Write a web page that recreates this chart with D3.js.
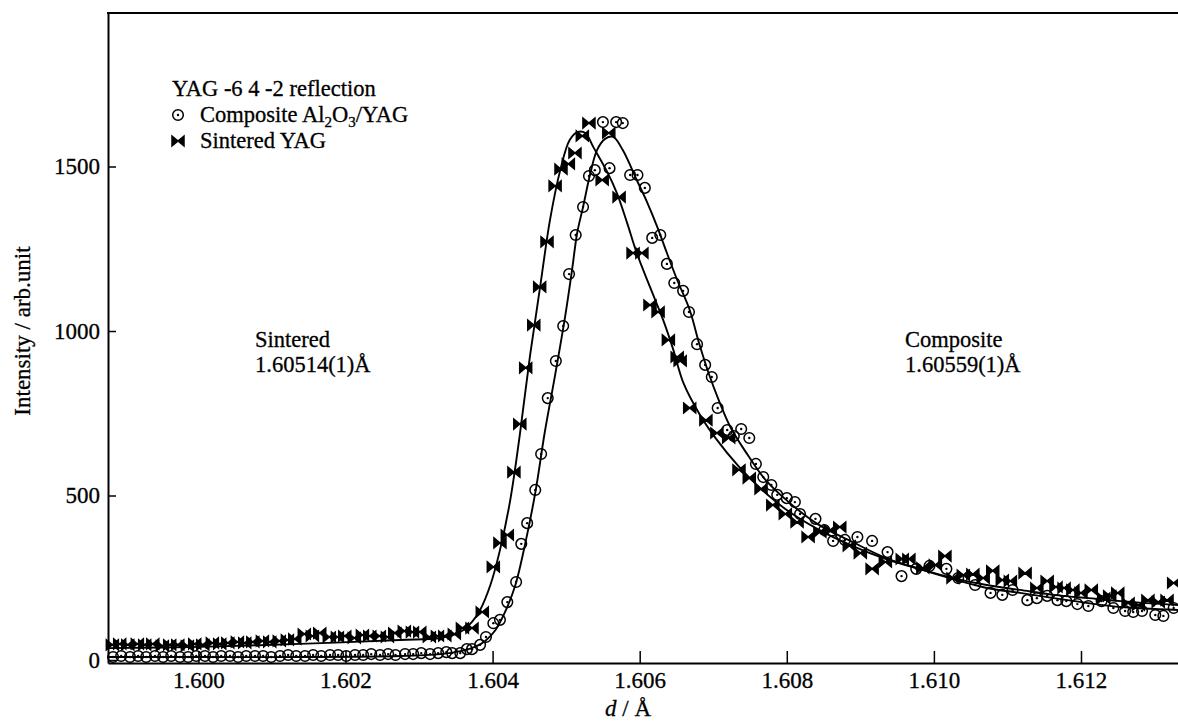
<!DOCTYPE html>
<html><head><meta charset="utf-8">
<script src="https://cdn.jsdelivr.net/npm/d3@7"></script>
<style>
body{margin:0;background:#fff}
svg{display:block}
text{font-family:"Liberation Serif","Times New Roman",serif;fill:#000;stroke:#000;stroke-width:0.3px}
</style>
</head><body>
<svg id="c" width="1178" height="721"></svg>
<script>
// ---- data (d in Å, intensity in arb. units) ----
const xTicks = [1.600, 1.602, 1.604, 1.606, 1.608, 1.610, 1.612];
const yTicks = [0, 500, 1000, 1500];
const seriesNames = ["Composite Al2O3/YAG", "Sintered YAG"];

const sinteredPoints = [
[1.59883,46],[1.59893,49],[1.59904,46],[1.59917,49],[1.59927,46],[1.59938,49],[1.59951,43],[1.59961,46],[1.59972,46],[1.59985,43],
[1.59995,49],[1.60006,46],[1.60019,52],[1.60029,49],[1.60040,52],[1.60053,55],[1.60063,52],[1.60074,55],[1.60087,58],[1.60097,55],
[1.60110,58],[1.60121,61],[1.60131,64],[1.60144,79],[1.60155,73],[1.60165,82],[1.60178,70],[1.60189,70],[1.60199,73],[1.60212,67],
[1.60223,76],[1.60233,73],[1.60246,73],[1.60257,70],[1.60267,82],[1.60280,88],[1.60291,85],[1.60301,85],[1.60314,70],[1.60325,73],
[1.60335,73],[1.60348,79],[1.60359,97],[1.60372,97],[1.60386,146],[1.60401,283],[1.60410,356],[1.60420,380],[1.60429,571],[1.60437,717],
[1.60445,888],[1.60456,1018],[1.60464,1134],[1.60474,1271],[1.60485,1441],[1.60493,1492],[1.60503,1508],[1.60512,1541],[1.60522,1593],[1.60531,1632],
[1.60549,1459],[1.60558,1602],[1.60572,1407],[1.60591,1237],[1.60603,1237],[1.60614,1079],[1.60625,1058],[1.60639,973],[1.60651,921],[1.60655,909],
[1.60668,766],[1.60690,729],[1.60705,690],[1.60721,675],[1.60735,578],[1.60749,553],[1.60765,520],[1.60781,471],[1.60798,444],[1.60814,419],
[1.60829,374],[1.60845,389],[1.60859,395],[1.60872,404],[1.60885,347],[1.60900,325],[1.60916,277],[1.60934,298],[1.60957,307],[1.60966,307],
[1.60985,280],[1.61002,289],[1.61015,316],[1.61026,249],[1.61040,258],[1.61053,261],[1.61067,249],[1.61080,271],[1.61093,243],[1.61104,240],
[1.61124,264],[1.61140,219],[1.61154,240],[1.61166,222],[1.61177,219],[1.61189,213],[1.61200,204],[1.61214,213],[1.61231,188],[1.61239,195],
[1.61250,204],[1.61264,173],[1.61278,167],[1.61291,182],[1.61305,176],[1.61317,182],[1.61326,234]
];

const compositePoints = [
[1.59884,9],[1.59895,12],[1.59907,9],[1.59918,12],[1.59929,9],[1.59941,12],[1.59952,9],[1.59963,12],[1.59975,9],[1.59986,9],
[1.59997,12],[1.60009,12],[1.60020,9],[1.60031,12],[1.60043,12],[1.60054,9],[1.60065,12],[1.60077,12],[1.60088,12],[1.60099,9],
[1.60111,12],[1.60122,15],[1.60133,12],[1.60145,12],[1.60156,15],[1.60167,12],[1.60179,15],[1.60190,15],[1.60201,12],[1.60213,15],
[1.60224,15],[1.60235,18],[1.60247,15],[1.60258,18],[1.60268,15],[1.60281,18],[1.60292,18],[1.60303,21],[1.60315,18],[1.60326,21],
[1.60337,24],[1.60345,21],[1.60356,21],[1.60365,33],[1.60372,33],[1.60383,46],[1.60391,70],[1.60401,112],[1.60410,122],[1.60420,176],
[1.60432,237],[1.60439,353],[1.60447,416],[1.60458,517],[1.60466,626],[1.60475,796],[1.60486,909],[1.60496,1015],[1.60504,1173],[1.60513,1292],
[1.60523,1377],[1.60531,1471],[1.60539,1489],[1.60550,1635],[1.60559,1495],[1.60568,1635],[1.60577,1632],[1.60587,1474],[1.60597,1474],[1.60607,1435],
[1.60617,1283],[1.60628,1292],[1.60637,1204],[1.60647,1146],[1.60659,1122],[1.60667,1058],[1.60678,960],[1.60689,897],[1.60698,860],[1.60706,766],
[1.60719,699],[1.60728,681],[1.60738,702],[1.60749,675],[1.60758,596],[1.60768,556],[1.60779,532],[1.60787,502],[1.60800,492],[1.60811,480],
[1.60818,444],[1.60839,429],[1.60851,395],[1.60863,362],[1.60879,365],[1.60896,374],[1.60916,362],[1.60937,328],[1.60956,255],[1.60976,277],
[1.60994,286],[1.61017,277],[1.61033,249],[1.61056,228],[1.61077,204],[1.61093,198],[1.61107,213],[1.61127,182],[1.61140,188],[1.61154,195],
[1.61168,182],[1.61180,179],[1.61195,170],[1.61210,164],[1.61228,179],[1.61244,158],[1.61260,149],[1.61271,146],[1.61283,149],[1.61301,137],
[1.61312,134],[1.61326,158]
];

const sinteredFit = [
[1.59877,36],[1.60002,40],[1.60138,49],[1.60274,61],[1.60329,67],[1.60356,85],[1.60372,116],[1.60383,152],[1.60397,228],[1.60410,334],
[1.60424,486],[1.60437,684],[1.60451,927],[1.60465,1140],[1.60478,1337],[1.60492,1489],[1.60505,1581],[1.60516,1605],[1.60526,1602],[1.60537,1559],
[1.60556,1483],[1.60569,1419],[1.60583,1328],[1.60596,1237],[1.60614,1134],[1.60632,1033],[1.60645,948],[1.60660,839],[1.60682,745],[1.60705,669],
[1.60734,590],[1.60765,520],[1.60798,459],[1.60842,398],[1.60889,347],[1.60935,307],[1.60980,277],[1.61026,249],[1.61072,228],[1.61117,213],
[1.61163,198],[1.61210,188],[1.61254,179],[1.61332,167]
];

const compositeFit = [
[1.59877,9],[1.60002,9],[1.60138,9],[1.60274,12],[1.60329,18],[1.60356,27],[1.60376,40],[1.60390,58],[1.60404,91],[1.60417,146],
[1.60431,228],[1.60444,350],[1.60458,508],[1.60471,693],[1.60485,866],[1.60499,1049],[1.60508,1185],[1.60515,1298],[1.60523,1377],[1.60533,1480],
[1.60542,1550],[1.60553,1584],[1.60564,1590],[1.60577,1550],[1.60596,1459],[1.60610,1392],[1.60624,1316],[1.60637,1237],[1.60651,1155],[1.60668,1064],
[1.60681,961],[1.60694,870],[1.60708,787],[1.60724,705],[1.60747,623],[1.60769,553],[1.60798,489],[1.60842,413],[1.60889,359],[1.60935,310],
[1.60980,277],[1.61026,246],[1.61072,219],[1.61117,204],[1.61163,188],[1.61210,173],[1.61254,161],[1.61332,152]
];

// ---- layout ----
const svg = d3.select("#c");
const L = 108, R = 1178, T = 13, B = 663;
const x = d3.scaleLinear().domain([1.598771, 1.613319]).range([L, R]);
const y = d3.scaleLinear().domain([-9.1, 1966.6]).range([B, T]);

// axes
const gx = svg.append("g").attr("transform", `translate(0,${B})`)
  .call(d3.axisBottom(x).tickValues(xTicks).tickFormat(d3.format(".3f"))
        .tickSizeInner(-12).tickSizeOuter(0).tickPadding(9));
const gy = svg.append("g").attr("transform", `translate(${L},0)`)
  .call(d3.axisLeft(y).tickValues(yTicks).tickFormat(d3.format("d"))
        .tickSizeInner(-8).tickSizeOuter(0).tickPadding(8));
[gx, gy].forEach(g => {
  g.attr("font-family", null).attr("font-size", null);
  g.select(".domain").attr("stroke", "#000").attr("stroke-width", 2);
  g.selectAll(".tick line").attr("stroke", "#000").attr("stroke-width", 1.5);
  g.selectAll(".tick text").style("font-size", "23px").attr("fill", "#000");
});
// top border
svg.append("line").attr("x1", L - 1).attr("x2", R).attr("y1", T).attr("y2", T)
  .attr("stroke", "#000").attr("stroke-width", 2);

// fitted curves
const line = d3.line().x(d => x(d[0])).y(d => y(d[1])).curve(d3.curveCatmullRom.alpha(0.5));
[sinteredFit, compositeFit].forEach(s => {
  svg.append("path").datum(s).attr("d", line)
    .attr("fill", "none").attr("stroke", "#000").attr("stroke-width", 1.9);
});

// markers
const bowtie = "M-6,-5L0,0L-6,5ZM6,-5L0,0L6,5ZM-6,-5.5V5.5M6,-5.5V5.5";
function drawBowtie(g, px, py) {
  g.append("path").attr("transform", `translate(${px},${py})`).attr("d", bowtie)
    .attr("fill", "#000").attr("stroke", "#000").attr("stroke-width", 1.5);
}
function drawCircle(g, px, py) {
  g.append("circle").attr("cx", px).attr("cy", py).attr("r", 5.3)
    .attr("fill", "none").attr("stroke", "#000").attr("stroke-width", 1.5);
  g.append("circle").attr("cx", px).attr("cy", py).attr("r", 1.2).attr("fill", "#000");
}
const gm = svg.append("g");
compositePoints.forEach(p => drawCircle(gm, x(p[0]), y(p[1])));
sinteredPoints.forEach(p => drawBowtie(gm, x(p[0]), y(p[1])));

// legend
svg.append("text").attr("x", 172).attr("y", 96).style("font-size", "22.5px").text("YAG -6 4 -2 reflection");
drawCircle(svg, 178, 115);
drawBowtie(svg, 178, 141);
const t1 = svg.append("text").attr("x", 200).attr("y", 122).style("font-size", "22.5px");
t1.append("tspan").text("Composite Al");
t1.append("tspan").attr("dy", 5).style("font-size", "15px").text("2");
t1.append("tspan").attr("dy", -5).text("O");
t1.append("tspan").attr("dy", 5).style("font-size", "15px").text("3");
t1.append("tspan").attr("dy", -5).text("/YAG");
svg.append("text").attr("x", 200).attr("y", 148).style("font-size", "22.5px").text(seriesNames[1]);

// annotations
const ann = [[255, "Sintered", "1.60514(1)Å"], [905, "Composite", "1.60559(1)Å"]];
ann.forEach(a => {
  svg.append("text").attr("x", a[0]).attr("y", 347).style("font-size", "22.5px").text(a[1]);
  svg.append("text").attr("x", a[0]).attr("y", 372).style("font-size", "22.5px").text(a[2]);
});

// axis titles
svg.append("text").attr("transform", "translate(30,331) rotate(-90)").attr("text-anchor", "middle")
  .style("font-size", "23px").text("Intensity / arb.unit");
const xt = svg.append("text").attr("x", 628).attr("y", 716).attr("text-anchor", "middle").style("font-size", "23px");
xt.append("tspan").style("font-style", "italic").text("d");
xt.append("tspan").text(" / Å");
</script>
</body></html>
